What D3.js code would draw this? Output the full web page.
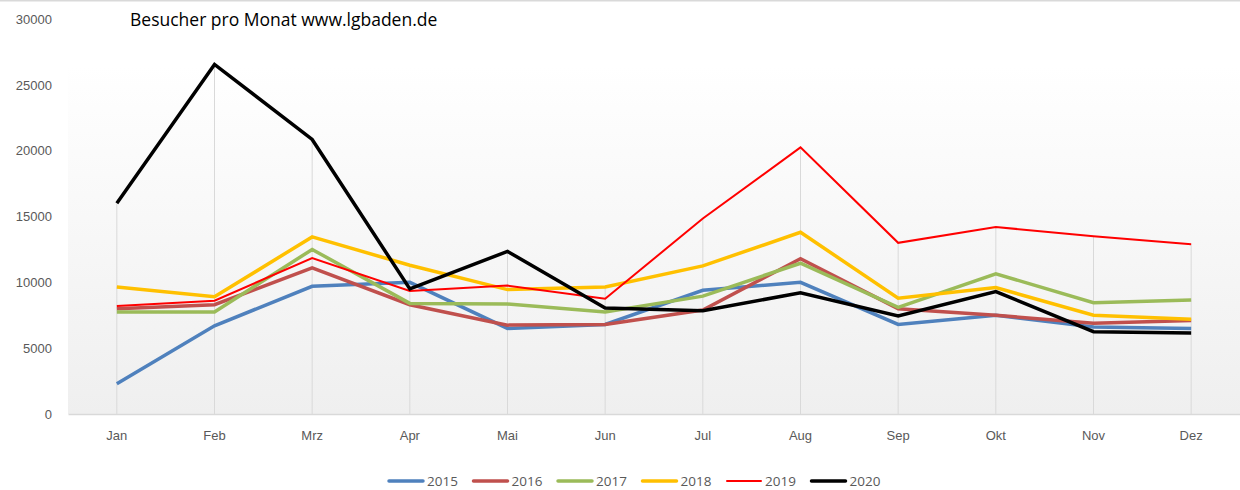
<!DOCTYPE html>
<html>
<head>
<meta charset="utf-8">
<script src="https://cdn.jsdelivr.net/npm/d3@7"></script>
<style>
  body { margin: 0; background: #fff; }
  svg { display: block; font-family: "Open Sans", "Noto Sans", sans-serif; }
  .tick text { fill: #595959; font-size: 13px; }
</style>
</head>
<body>
<svg id="chart" width="1240" height="490"></svg>
<script>
const months = ["Jan", "Feb", "Mrz", "Apr", "Mai", "Jun", "Jul", "Aug", "Sep", "Okt", "Nov", "Dez"];
const years = ["2015", "2016", "2017", "2018", "2019", "2020"];
const yTicks = [0, 5000, 10000, 15000, 20000, 25000, 30000];

const v2015 = [2300, 6700, 9700, 10000, 6500, 6800, 9400, 10000, 6800, 7500, 6600, 6500];
const v2016 = [8000, 8300, 11100, 8300, 6750, 6800, 7900, 11800, 8000, 7500, 6900, 7100];
const v2017 = [7750, 7750, 12500, 8400, 8350, 7750, 8950, 11450, 8100, 10650, 8450, 8650];
const v2018 = [9650, 8900, 13450, 11300, 9450, 9650, 11250, 13800, 8800, 9600, 7500, 7200];
const v2019 = [8200, 8600, 11850, 9350, 9750, 8750, 14850, 20250, 13000, 14200, 13500, 12900];
const v2020 = [16000, 26550, 20850, 9500, 12350, 8050, 7850, 9200, 7450, 9300, 6250, 6150];

const seriesValues = [v2015, v2016, v2017, v2018, v2019, v2020];
const colors = ["#4f81bd", "#c0504d", "#9bbb59", "#ffc000", "#ff0000", "#000000"];
const widths = [3.5, 3.5, 3.5, 3.5, 2, 3.5];

const svg = d3.select('#chart');
const plot = { left: 68, right: 1240, top: 65, bottom: 414 };

const x = d3.scaleBand().domain(months).range([plot.left, plot.right]);
const y = d3.scaleLinear().domain([0, 30000]).range([plot.bottom, 19]);

// chart border on top
svg.append('line')
  .attr('x1', 0).attr('x2', 1240).attr('y1', 0.5).attr('y2', 0.5)
  .attr('stroke', '#d9d9d9').attr('stroke-width', 2);

// plot area gradient
const grad = svg.append('defs').append('linearGradient')
  .attr('id', 'bg').attr('x1', 0).attr('x2', 0).attr('y1', 0).attr('y2', 1);
grad.append('stop').attr('offset', '0%').attr('stop-color', '#ffffff');
grad.append('stop').attr('offset', '100%').attr('stop-color', '#efefef');

svg.append('rect')
  .attr('x', plot.left).attr('y', plot.top)
  .attr('width', plot.right - plot.left).attr('height', plot.bottom - plot.top)
  .attr('fill', 'url(#bg)');

// drop lines from the highest value of each month
svg.append('g').selectAll('line')
  .data(months)
  .join('line')
  .attr('x1', d => x(d) + x.bandwidth() / 2)
  .attr('x2', d => x(d) + x.bandwidth() / 2)
  .attr('y1', (d, i) => y(d3.max(seriesValues, s => s[i])))
  .attr('y2', plot.bottom)
  .attr('stroke', '#d9d9d9').attr('stroke-width', 1);

// axes
const axisX = d3.axisBottom(x).tickSize(0).tickPadding(17);
svg.append('g')
  .attr('transform', `translate(0,${plot.bottom})`)
  .call(axisX)
  .call(g => g.select('.domain').attr('stroke', '#d9d9d9').attr('stroke-width', 1.5));

const axisY = d3.axisLeft(y).tickValues(yTicks).tickFormat(d3.format('d')).tickSize(0).tickPadding(16);
svg.append('g')
  .attr('transform', `translate(${plot.left},0)`)
  .call(axisY)
  .call(g => g.select('.domain').remove());

// lines
const line = d3.line()
  .x((d, i) => x(months[i]) + x.bandwidth() / 2)
  .y(d => y(d));

svg.append('g').selectAll('path')
  .data(seriesValues)
  .join('path')
  .attr('d', d => line(d))
  .attr('fill', 'none')
  .attr('stroke', (d, i) => colors[i])
  .attr('stroke-width', (d, i) => widths[i])
  .attr('stroke-linejoin', 'miter');

// title
svg.append('text')
  .attr('x', 130).attr('y', 26)
  .attr('font-size', 17.5)
  .attr('fill', '#000')
  .text('Besucher pro Monat www.lgbaden.de');

// legend
const legend = svg.append('g').attr('transform', 'translate(389,481)');
const item = legend.selectAll('g')
  .data(years)
  .join('g')
  .attr('transform', (d, i) => `translate(${i * 84.5},0)`);
item.append('line')
  .attr('x1', 0).attr('x2', 34)
  .attr('stroke', (d, i) => colors[i])
  .attr('stroke-width', (d, i) => widths[i])
  .attr('stroke-linecap', 'round');
item.append('text')
  .attr('x', 38).attr('dy', '0.35em')
  .attr('font-size', 13.5)
  .attr('fill', '#595959')
  .text(d => d);
</script>
</body>
</html>
